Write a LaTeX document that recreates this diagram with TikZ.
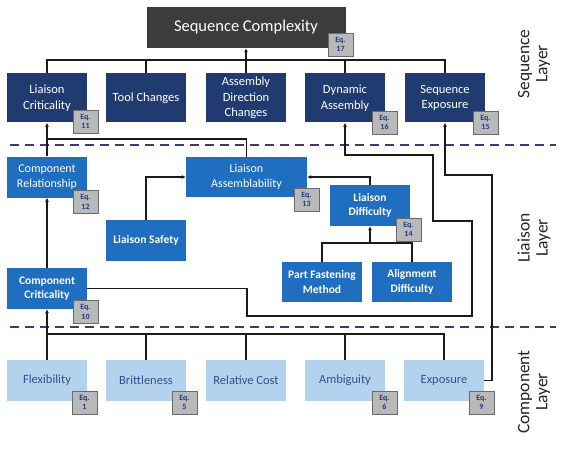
\documentclass[tikz,border=0pt]{standalone}
\usepackage{fontspec}
\setmainfont{Carlito}
\usetikzlibrary{arrows.meta}
\definecolor{seqgray}{HTML}{3C3C3C}
\definecolor{navy}{HTML}{1F3B70}
\definecolor{midblue}{HTML}{1F6EC0}
\definecolor{lightblue}{HTML}{B3D2EE}
\definecolor{comptext}{HTML}{34508C}
\definecolor{eqfill}{HTML}{B9B9B9}
\definecolor{eqdraw}{HTML}{6A6A6A}
\definecolor{eqtext}{HTML}{1F3A80}
\definecolor{dashcol}{HTML}{3A3A7A}
\definecolor{linecol}{HTML}{1A1A1A}
\begin{document}
\begin{tikzpicture}[x=1pt,y=-1pt,
  box/.style={rectangle,minimum width=80pt,minimum height=41pt,inner sep=1pt,align=center},
  seqbox/.style={box,fill=navy,text=white,minimum height=49pt,font=\fontsize{12.5}{15.5}\selectfont},
  liabox/.style={box,fill=midblue,text=white,font=\fontsize{12}{14.5}\selectfont},
  liabold/.style={box,fill=midblue,text=white,font=\fontsize{11.5}{14.5}\selectfont\bfseries},
  compbox/.style={box,fill=lightblue,text=comptext,font=\fontsize{12.5}{15}\selectfont},
  eq/.style={rectangle,fill=eqfill,draw=eqdraw,line width=0.8pt,minimum width=25pt,minimum height=23pt,inner sep=0pt,align=center,text=eqtext,font=\fontsize{8}{9.5}\selectfont\bfseries},
  conn/.style={draw=linecol,line width=1.5pt},
  arr/.style={conn,-{Latex[length=4pt,width=4pt]}},
  layerdash/.style={draw=dashcol,line width=2.5pt,dash pattern=on 9pt off 6pt},
  layerlbl/.style={rotate=90,align=center,text=black!85,font=\fontsize{17.5}{18}\selectfont}
]
\useasboundingbox[fill=white] (0,0) rectangle (563,452);

% layer separators
\draw[layerdash] (10,145) -- (556,145);
\draw[layerdash] (10,327) -- (556,327);

% layer labels
\node[layerlbl] (lsq) at (534,64) {Sequence\\Layer};
\node[layerlbl] (lli) at (534,238) {Liaison\\Layer};
\node[layerlbl] (lco) at (534,392) {Component\\Layer};

% sequence complexity
\node[box,fill=seqgray,text=white,minimum width=199pt,minimum height=41pt,font=\fontsize{16.5}{18}\selectfont] (sc) at (246,27.5) {Sequence Complexity};

% sequence layer
\node[seqbox] (lc) at (47,98) {Liaison\\Criticality};
\node[seqbox] (tc) at (146,98) {Tool Changes};
\node[seqbox] (adc) at (246,98) {Assembly\\Direction\\Changes};
\node[seqbox] (da) at (345,98) {Dynamic\\Assembly};
\node[seqbox] (se) at (445,98) {Sequence\\Exposure};

% liaison layer
\node[liabox] (cr) at (47,177) {Component\\Relationship};
\node[liabox,minimum width=121pt,minimum height=40pt] (la) at (246.5,177) {Liaison\\Assemblability};
\node[liabold] (ld) at (370,205.5) {Liaison\\Difficulty};
\node[liabold] (ls) at (146,240.5) {Liaison Safety};
\node[liabold,minimum height=40pt] (pf) at (322,282) {Part Fastening\\Method};
\node[liabold,minimum height=40pt] (ad) at (412,282) {Alignment\\Difficulty};
\node[liabold] (cc) at (47,288.5) {Component\\Criticality};

% component layer
\node[compbox] (fl) at (47,380.5) {Flexibility};
\node[compbox] (br) at (146,380.5) {Brittleness};
\node[compbox] (rc) at (246,380.5) {Relative Cost};
\node[compbox] (am) at (345,380.5) {Ambiguity};
\node[compbox] (ex) at (444,380.5) {Exposure};

% equation badges
\node[eq] (e17) at (340.5,44.5) {Eq.\\17};
\node[eq] (e11) at (85.5,121.5) {Eq.\\11};
\node[eq] (e16) at (384.5,122.5) {Eq.\\16};
\node[eq] (e15) at (485.5,122.5) {Eq.\\15};
\node[eq] (e12) at (85.5,202) {Eq.\\12};
\node[eq] (e13) at (306.5,199.5) {Eq.\\13};
\node[eq] (e14) at (408.5,229.5) {Eq.\\14};
\node[eq] (e10) at (85.5,312) {Eq.\\10};
\node[eq] (e1) at (84.5,402.5) {Eq.\\1};
\node[eq] (e5) at (184.5,402.5) {Eq.\\5};
\node[eq] (e6) at (384.5,402.5) {Eq.\\6};
\node[eq] (e9) at (481.5,402.5) {Eq.\\9};

% top bus
\coordinate (tb) at (246,60);
\draw[conn] (lc.north) -- (lc.north |- tb) -- (se.north |- tb) -- (se.north);
\draw[conn] (tc.north) -- (tc.north |- tb);
\draw[conn] (adc.north) -- (adc.north |- tb);
\draw[conn] (da.north) -- (da.north |- tb);
\draw[arr] (tb) -- (sc.south);

% liaison criticality inputs
\coordinate (j1) at (47,139);
\draw[arr] (cr.north) -- (lc.south);
\draw[conn] (la.north) |- (j1);

% component relationship
\draw[arr] (cc.north) -- (cr.south);

% liaison assemblability inputs
\draw[arr] (ls.north) |- (la.west);
\draw[arr] (ld.north) |- (la.east);

% liaison difficulty inputs
\coordinate (lb) at (370,243);
\draw[conn] (pf.north) |- (lb) -| (ad.north);
\draw[arr] (lb) -- (ld.south);

% component criticality -> dynamic assembly
\draw[arr] (cc.east) -- (247,288.5) -- (247,316) -- (472,316) -- (472,221) -- (433,221) -- (433,155) -- (345,155) -- (da.south);

% exposure -> sequence exposure
\draw[arr] (ex.east) -- (492,380.5) -- (492,175) -- (445,175) -- (se.south);

% component bus
\coordinate (cb) at (47,334);
\draw[conn] (fl.north) -- (cb) -- (ex.north |- cb) -- (ex.north);
\draw[conn] (br.north) -- (br.north |- cb);
\draw[conn] (rc.north) -- (rc.north |- cb);
\draw[conn] (am.north) -- (am.north |- cb);
\draw[arr] (cb) -- (cc.south);

\end{tikzpicture}
\end{document}
